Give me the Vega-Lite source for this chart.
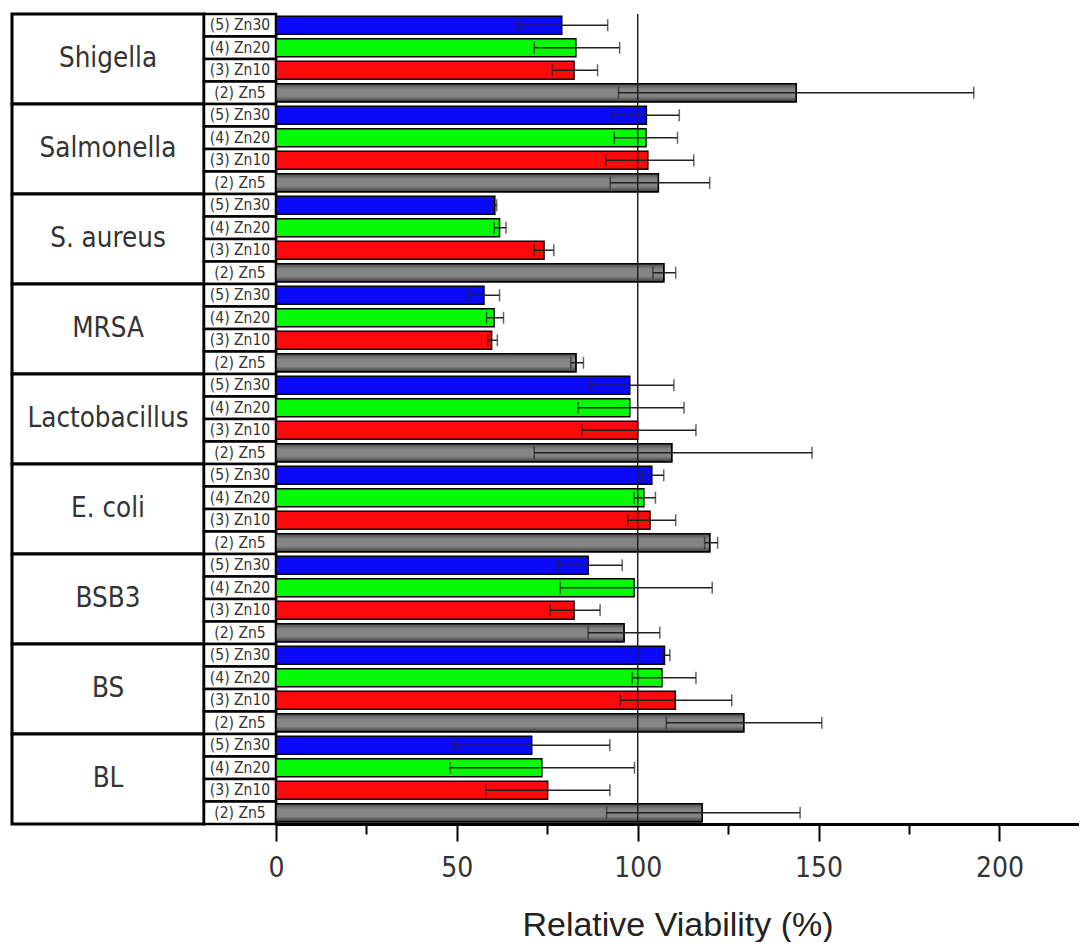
{
  "$schema": "https://vega.github.io/schema/vega-lite/v6.json",
  "background": "white",
  "padding": {"left": 10, "top": 12, "right": 0, "bottom": 0},
  "spacing": 0,
  "bounds": "flush",
  "config": {"view": {"stroke": null}, "font": "Liberation Sans"},
  "datasets": {
    "groups": [
      {"group": "Shigella"}, {"group": "Salmonella"}, {"group": "S. aureus"},
      {"group": "MRSA"}, {"group": "Lactobacillus"}, {"group": "E. coli"},
      {"group": "BSB3"}, {"group": "BS"}, {"group": "BL"}
    ],
    "viability": [
      {"group": "Shigella", "sub": "(5) Zn30", "v": 79.0, "lo": 67.0, "hi": 91.7},
      {"group": "Shigella", "sub": "(4) Zn20", "v": 82.9, "lo": 71.4, "hi": 95.0},
      {"group": "Shigella", "sub": "(3) Zn10", "v": 82.4, "lo": 76.4, "hi": 88.9},
      {"group": "Shigella", "sub": "(2) Zn5", "v": 143.8, "lo": 94.7, "hi": 192.9},
      {"group": "Salmonella", "sub": "(5) Zn30", "v": 102.4, "lo": 92.9, "hi": 111.5},
      {"group": "Salmonella", "sub": "(4) Zn20", "v": 102.3, "lo": 93.5, "hi": 111.0},
      {"group": "Salmonella", "sub": "(3) Zn10", "v": 102.8, "lo": 91.2, "hi": 115.5},
      {"group": "Salmonella", "sub": "(2) Zn5", "v": 105.7, "lo": 92.4, "hi": 119.9},
      {"group": "S. aureus", "sub": "(5) Zn30", "v": 60.5, "lo": 60.0, "hi": 61.0},
      {"group": "S. aureus", "sub": "(4) Zn20", "v": 61.8, "lo": 60.3, "hi": 63.6},
      {"group": "S. aureus", "sub": "(3) Zn10", "v": 74.1, "lo": 71.4, "hi": 76.8},
      {"group": "S. aureus", "sub": "(2) Zn5", "v": 107.2, "lo": 104.2, "hi": 110.5},
      {"group": "MRSA", "sub": "(5) Zn30", "v": 57.5, "lo": 53.3, "hi": 61.8},
      {"group": "MRSA", "sub": "(4) Zn20", "v": 60.3, "lo": 58.2, "hi": 62.9},
      {"group": "MRSA", "sub": "(3) Zn10", "v": 59.6, "lo": 58.6, "hi": 61.2},
      {"group": "MRSA", "sub": "(2) Zn5", "v": 82.9, "lo": 81.5, "hi": 85.0},
      {"group": "Lactobacillus", "sub": "(5) Zn30", "v": 97.8, "lo": 86.9, "hi": 110.0},
      {"group": "Lactobacillus", "sub": "(4) Zn20", "v": 97.8, "lo": 83.5, "hi": 112.8},
      {"group": "Lactobacillus", "sub": "(3) Zn10", "v": 100.0, "lo": 84.6, "hi": 116.1},
      {"group": "Lactobacillus", "sub": "(2) Zn5", "v": 109.4, "lo": 71.4, "hi": 148.2},
      {"group": "E. coli", "sub": "(5) Zn30", "v": 103.9, "lo": 101.3, "hi": 107.2},
      {"group": "E. coli", "sub": "(4) Zn20", "v": 101.7, "lo": 99.0, "hi": 104.9},
      {"group": "E. coli", "sub": "(3) Zn10", "v": 103.4, "lo": 97.3, "hi": 110.5},
      {"group": "E. coli", "sub": "(2) Zn5", "v": 119.9, "lo": 118.5, "hi": 122.1},
      {"group": "BSB3", "sub": "(5) Zn30", "v": 86.3, "lo": 78.1, "hi": 95.7},
      {"group": "BSB3", "sub": "(4) Zn20", "v": 99.0, "lo": 78.6, "hi": 120.6},
      {"group": "BSB3", "sub": "(3) Zn10", "v": 82.4, "lo": 75.8, "hi": 89.6},
      {"group": "BSB3", "sub": "(2) Zn5", "v": 96.2, "lo": 86.3, "hi": 106.1},
      {"group": "BS", "sub": "(5) Zn30", "v": 107.4, "lo": 106.7, "hi": 108.9},
      {"group": "BS", "sub": "(4) Zn20", "v": 106.7, "lo": 98.5, "hi": 116.1},
      {"group": "BS", "sub": "(3) Zn10", "v": 110.4, "lo": 95.2, "hi": 126.0},
      {"group": "BS", "sub": "(2) Zn5", "v": 129.3, "lo": 107.9, "hi": 150.9},
      {"group": "BL", "sub": "(5) Zn30", "v": 70.7, "lo": 49.4, "hi": 92.3},
      {"group": "BL", "sub": "(4) Zn20", "v": 73.5, "lo": 48.1, "hi": 99.1},
      {"group": "BL", "sub": "(3) Zn10", "v": 75.1, "lo": 58.0, "hi": 92.3},
      {"group": "BL", "sub": "(2) Zn5", "v": 117.8, "lo": 91.4, "hi": 144.9}
    ]
  },
  "resolve": {"scale": {"y": "independent", "yOffset": "independent", "x": "independent"}},
  "hconcat": [
    {
      "width": 192,
      "height": 810,
      "data": {"name": "groups"},
      "encoding": {
        "y": {"field": "group", "type": "nominal", "sort": null,
              "scale": {"paddingInner": 0, "paddingOuter": 0}, "axis": null}
      },
      "layer": [
        {"mark": {"type": "rect", "fill": "white", "stroke": "black", "strokeWidth": 3}},
        {"mark": {"type": "text", "font": "DejaVu Sans Condensed, Liberation Sans", "fontSize": 27.5, "color": "#333"},
         "encoding": {"text": {"field": "group"}}}
      ]
    },
    {
      "width": 72,
      "height": 810,
      "data": {"name": "viability"},
      "encoding": {
        "y": {"field": "group", "type": "nominal", "sort": null,
              "scale": {"paddingInner": 0, "paddingOuter": 0}, "axis": null},
        "yOffset": {"field": "sub", "type": "nominal", "sort": null,
                    "scale": {"paddingInner": 0, "paddingOuter": 0}}
      },
      "layer": [
        {"mark": {"type": "rect", "fill": "white", "stroke": "black", "strokeWidth": 2.5}},
        {"mark": {"type": "text", "font": "DejaVu Sans Condensed, Liberation Sans", "fontSize": 15.5, "color": "#333"},
         "encoding": {"text": {"field": "sub"}}}
      ]
    },
    {
      "width": 803,
      "height": 810,
      "layer": [
        {
          "data": {"name": "viability"},
          "mark": {"type": "bar", "stroke": "black", "strokeWidth": 1.5},
          "encoding": {
            "y": {"field": "group", "type": "nominal", "sort": null,
                  "scale": {"paddingInner": 0, "paddingOuter": 0}, "axis": null},
            "yOffset": {"field": "sub", "type": "nominal", "sort": null,
                        "scale": {"paddingInner": 0.2, "paddingOuter": 0.1}},
            "x": {
              "field": "v", "type": "quantitative",
              "scale": {"domain": [0, 222], "nice": false, "zero": true},
              "axis": {
                "values": [0, 25, 50, 75, 100, 125, 150, 175, 200],
                "labelExpr": "datum.value % 50 === 0 ? datum.label : ''",
                "tickSize": {"condition": {"test": "datum.value % 50 === 0", "value": 17}, "value": 10},
                "grid": false,
                "domainColor": "black", "domainWidth": 3,
                "tickColor": "black", "tickWidth": 2,
                "labelFont": "DejaVu Sans Condensed, Liberation Sans", "labelFontSize": 28,
                "labelColor": "#333", "labelPadding": 13,
                "labelFlush": false, "labelOverlap": false,
                "title": "Relative Viability (%)",
                "titleFont": "Liberation Sans", "titleFontSize": 34,
                "titleFontWeight": "normal", "titleColor": "#222", "titlePadding": 26
              }
            },
            "color": {
              "field": "sub", "type": "nominal",
              "scale": {"domain": ["(5) Zn30", "(4) Zn20", "(3) Zn10", "(2) Zn5"],
                        "range": ["#0a0af8", "#05fa05", "#fa0a0a", "#808080"]},
              "legend": null
            }
          }
        },
        {
          "data": {"name": "viability"},
          "transform": [{"filter": "datum.sub === '(2) Zn5'"}],
          "mark": {
            "type": "bar", "stroke": "black", "strokeWidth": 1.5,
            "fill": {
              "gradient": "linear", "x1": 0, "y1": 0, "x2": 0, "y2": 1,
              "stops": [
                {"offset": 0, "color": "#4a4a4a"},
                {"offset": 0.3, "color": "#858585"},
                {"offset": 0.7, "color": "#858585"},
                {"offset": 1, "color": "#3a3a3a"}
              ]
            }
          },
          "encoding": {
            "y": {"field": "group", "type": "nominal", "sort": null},
            "yOffset": {"field": "sub", "type": "nominal", "sort": null},
            "x": {"field": "v", "type": "quantitative"}
          }
        },
        {
          "data": {"values": [{"ref": 100}]},
          "mark": {"type": "rule", "color": "#222", "strokeWidth": 1.5},
          "encoding": {"x": {"field": "ref", "type": "quantitative"}}
        },
        {
          "data": {"name": "viability"},
          "mark": {"type": "rule", "color": "#222", "strokeWidth": 1.5},
          "encoding": {
            "y": {"field": "group", "type": "nominal", "sort": null},
            "yOffset": {"field": "sub", "type": "nominal", "sort": null},
            "x": {"field": "lo", "type": "quantitative"},
            "x2": {"field": "hi"}
          }
        },
        {
          "data": {"name": "viability"},
          "mark": {"type": "tick", "color": "#222", "thickness": 1.5, "size": 12},
          "encoding": {
            "y": {"field": "group", "type": "nominal", "sort": null},
            "yOffset": {"field": "sub", "type": "nominal", "sort": null},
            "x": {"field": "lo", "type": "quantitative"}
          }
        },
        {
          "data": {"name": "viability"},
          "mark": {"type": "tick", "color": "#222", "thickness": 1.5, "size": 12},
          "encoding": {
            "y": {"field": "group", "type": "nominal", "sort": null},
            "yOffset": {"field": "sub", "type": "nominal", "sort": null},
            "x": {"field": "hi", "type": "quantitative"}
          }
        }
      ]
    }
  ]
}
